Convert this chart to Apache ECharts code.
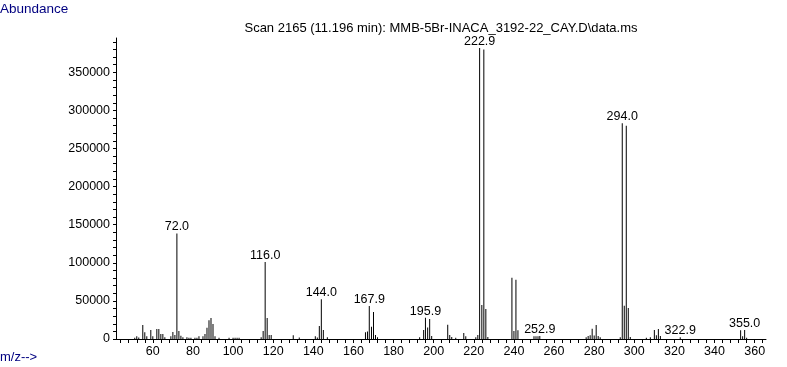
<!DOCTYPE html>
<html>
<head>
<meta charset="utf-8">
<script src="https://cdn.jsdelivr.net/npm/echarts@6/dist/echarts.min.js"></script>
<style>
html,body{margin:0;padding:0;background:#fff;}
#chart{width:787px;height:367px;}
</style>
</head>
<body>
<div id="chart"></div>
<script>
// m/z values of the peaks
const mzValues = [51,52,53,55,56,57,59,60,62,63,64,65,66,69,70,71,72.0,73,74,75,77,78,79,81,82,83,85,86,87,88,89,90,91,93,98,100,101,102,103,
  114,115,116.0,117,118,119,130,133,141,142,143,144.0,145,147,166,167,167.9,169,170,171,172,193,195,195.9,197,198,199,
  207,208,209,211,215,216,221,222,222.9,224,225,226,227,239,240,241,242,250,251,252,252.9,
  276,277,278,279,280,281,282,283,293,294.0,295,296,297,298,306,308,310,311,312,313,322.9,353,354,355.0,356];
// abundances of the peaks
const abundances = [1500,3500,2000,18400,8800,3500,11800,3500,13100,13100,6600,6600,2200,3500,9200,5300,138500,10500,4400,2200,2200,1500,1500,1500,1500,3500,3500,6600,14800,24500,27600,19700,3500,1800,1500,1500,1500,1500,1500,
  2200,10500,101000,27600,5300,5300,5000,2000,3500,2000,17100,52200,11800,2200,8800,10000,43400,16000,35500,5300,2200,2200,11800,28000,15000,26300,4000,
  18600,5300,2500,1800,7900,3500,2200,5300,382000,44700,380000,39500,2500,80500,10500,77800,11400,3500,3500,3500,4000,
  2200,3800,5000,13300,4500,18400,3800,2200,2200,283000,43600,280000,40700,2600,1500,2200,11800,5000,13100,3800,2200,11400,3500,11800,1800];
// labelled peaks
const labelledMz = [72.0,116.0,144.0,167.9,195.9,222.9,252.9,294.0,322.9,355.0];
const labelTexts = ['72.0','116.0','144.0','167.9','195.9','222.9','252.9','294.0','322.9','355.0'];
// tick labels
const xTickLabels = [60,80,100,120,140,160,180,200,220,240,260,280,300,320,340,360];
const yTickLabels = [0,50000,100000,150000,200000,250000,300000,350000];
const titleText = 'Scan 2165 (11.196 min): MMB-5Br-INACA_3192-22_CAY.D\\data.ms';

const xTicks = [];
for (let v = 44; v <= 364; v += 4) xTicks.push(v);
const yTicks = [];
for (let v = 0; v <= 390000; v += 10000) yTicks.push(v);

const FONT = 'Liberation Sans';
const data = mzValues.map((m, i) => {
  const li = labelledMz.indexOf(m);
  const item = { value: [m, abundances[i]] };
  if (li >= 0) {
    item.label = { show: true, position: 'top', distance: 0, formatter: labelTexts[li],
      color: '#000', fontFamily: FONT, fontSize: 12.5 };
  }
  return item;
});

const chart = echarts.init(document.getElementById('chart'), null, { renderer: 'canvas' });
chart.setOption({
  animation: false,
  backgroundColor: '#fff',
  graphic: [
    { type: 'text', x: 0, y: 2, style: { text: 'Abundance', fill: '#000080', font: '13.5px "Liberation Sans"' } },
    { type: 'text', x: 0, y: 351, style: { text: 'm/z-->', fill: '#000080', font: '13px "Liberation Sans"' } },
    { type: 'text', x: 441, y: 22, style: { text: titleText, fill: '#000', textAlign: 'center', font: '13px "Liberation Sans"' } }
  ],
  grid: { left: 116, right: 21, top: 38, bottom: 28, containLabel: false },
  xAxis: {
    type: 'value', min: 41.65, max: 365.65,
    axisLine: { show: true, lineStyle: { color: '#000', width: 1 } },
    axisTick: { show: true, customValues: xTicks, length: 4, inside: false, lineStyle: { color: '#000' } },
    axisLabel: { customValues: xTickLabels, color: '#000', fontFamily: FONT, fontSize: 12.5, margin: 6 },
    splitLine: { show: false }
  },
  yAxis: {
    type: 'value', min: 0, max: 395000,
    axisLine: { show: true, lineStyle: { color: '#000', width: 1 } },
    axisTick: { show: true, customValues: yTicks, length: 3, lineStyle: { color: '#000' } },
    axisLabel: { customValues: yTickLabels, color: '#000', fontFamily: FONT, fontSize: 12.5, margin: 6,
      formatter: v => String(v) },
    splitLine: { show: false }
  },
  series: [{
    type: 'bar',
    data: data,
    barWidth: 1,
    itemStyle: { color: '#000' },
    silent: true
  }]
});
</script>
</body>
</html>
